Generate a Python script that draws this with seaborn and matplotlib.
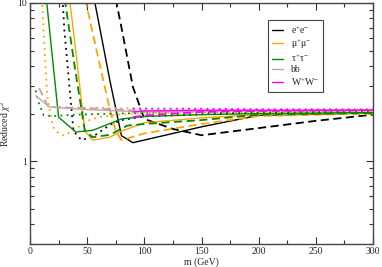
import numpy as np
import pandas as pd
import matplotlib
matplotlib.use("Agg")
import matplotlib.pyplot as plt
from matplotlib.ticker import LogLocator, MultipleLocator, NullFormatter, FixedLocator, FixedFormatter
import seaborn as sns

# ---- data (m in GeV, reduced chi^2) ----
ee_solid_m = [50, 60, 70, 80, 90, 150, 200, 300]
ee_solid = [18, 7.6, 3.2, 1.45, 1.31, 1.65, 1.95, 2.02]
ee_dash_m = [70, 80, 90, 100, 125, 150, 200, 250, 300]
ee_dash = [16, 7.0, 2.95, 1.85, 1.6, 1.46, 1.62, 1.8, 1.97]
ee_dot_m = [25, 30, 35, 38, 45, 55, 70, 80, 100, 150, 200, 300]
ee_dot = [30, 6.8, 2.7, 1.55, 1.36, 1.43, 1.7, 1.82, 1.92, 1.98, 2.02, 2.05]

mm_solid_m = [30, 40, 48, 55, 70, 80, 100, 150, 200, 300]
mm_solid = [20, 5.0, 1.55, 1.36, 1.42, 1.55, 1.75, 1.88, 1.97, 2.02]
mm_dash_m = [40, 50, 60, 70, 75, 80, 100, 150, 200, 300]
mm_dash = [25, 9.3, 4.4, 2.1, 1.55, 1.36, 1.5, 1.72, 1.93, 2.0]
mm_dot_m = [10, 15, 20, 25, 30, 40, 50, 60, 80, 100, 200, 300]
mm_dot = [12, 2.6, 1.65, 1.5, 1.45, 1.6, 1.8, 1.9, 1.98, 2.02, 2.05, 2.07]

tt_solid_m = [10, 15, 25, 40, 55, 80, 100, 150, 200, 300]
tt_solid = [25, 9.5, 1.9, 1.53, 1.57, 1.85, 1.92, 1.97, 2.0, 2.03]
tt_dash_m = [30, 40, 48, 55, 70, 85, 100, 150, 200, 300]
tt_dash = [11, 3.6, 1.55, 1.42, 1.47, 1.68, 1.72, 1.82, 1.97, 2.02]
tt_dot_m = [5, 8, 12, 20, 40, 100, 200, 300]
tt_dot = [2.8, 2.3, 1.95, 1.93, 1.97, 2.02, 2.05, 2.07]

bb_solid_m = [5, 17, 50, 100, 200, 300]
bb_solid = [2.6, 2.2, 2.12, 2.05, 2.08, 2.1]
bb_dash_m = [8, 16, 60, 100, 200, 300]
bb_dash = [2.9, 2.2, 2.15, 2.08, 2.1, 2.12]
bb_dot_m = [20, 100, 200, 300]
bb_dot = [2.2, 2.15, 2.12, 2.13]

ww_solid_m = [90, 100, 150, 200, 300]
ww_solid = [2.05, 2.08, 2.1, 2.1, 2.1]
ww_dash_m = [90, 100, 150, 200, 300]
ww_dash = [1.9, 1.95, 2.05, 2.08, 2.1]
ww_dot_m = [90, 100, 150, 200, 300]
ww_dot = [2.15, 2.15, 2.15, 2.13, 2.12]

labels = [r"e$^{+}$e$^{-}$", r"μ$^{+}$μ$^{-}$", r"τ$^{+}$τ$^{-}$", "bb", r"W$^{+}$W$^{-}$"]
colors = ["black", "#ffa500", "#008b00", "#c9a3a3", "#ff00ff"]

sns.set_style("ticks")
plt.rcParams["font.family"] = ["Liberation Serif", "DejaVu Serif"]
plt.rcParams["mathtext.fontset"] = "custom"
plt.rcParams["mathtext.rm"] = "Liberation Serif"
plt.rcParams["mathtext.it"] = "Liberation Serif:italic"
plt.rcParams["font.size"] = 7

fig = plt.figure(figsize=(3.82, 2.67), dpi=100)
ax = fig.add_axes([30/382, 1-244/267, 343/382, 241/267])

series = [
    (ee_solid_m, ee_solid, ee_dash_m, ee_dash, ee_dot_m, ee_dot),
    (mm_solid_m, mm_solid, mm_dash_m, mm_dash, mm_dot_m, mm_dot),
    (tt_solid_m, tt_solid, tt_dash_m, tt_dash, tt_dot_m, tt_dot),
    (bb_solid_m, bb_solid, bb_dash_m, bb_dash, bb_dot_m, bb_dot),
    (ww_solid_m, ww_solid, ww_dash_m, ww_dash, ww_dot_m, ww_dot),
]
for (sm, sy, dm, dy, om, oy), c, lab in zip(series, colors, labels):
    sns.lineplot(x=sm, y=sy, ax=ax, color=c, lw=1.0, sort=False, estimator=None, label=lab)
    sns.lineplot(x=dm, y=dy, ax=ax, color=c, lw=1.3, sort=False, estimator=None,
                 linestyle=(0, (4.5, 2.5)), legend=False)
    sns.lineplot(x=om, y=oy, ax=ax, color=c, lw=1.3, sort=False, estimator=None,
                 linestyle=(0, (1, 2.4)), legend=False)

ax.set_yscale("log")
ax.set_xlim(0, 300)
ax.set_ylim(0.3, 10)
ax.xaxis.set_major_locator(MultipleLocator(50))
ax.xaxis.set_minor_locator(MultipleLocator(25))
ax.yaxis.set_major_locator(FixedLocator([1, 10]))
ax.yaxis.set_major_formatter(FixedFormatter(["1", "10"]))
ax.yaxis.set_minor_locator(LogLocator(base=10, subs=np.arange(2, 10)))
ax.yaxis.set_minor_formatter(NullFormatter())
ax.tick_params(which="both", direction="in", top=True, right=True, labelsize=7, pad=2, color="#333333")
ax.tick_params(which="major", length=5, width=0.8)
ax.tick_params(which="minor", length=3, width=0.8)
for s in ax.spines.values():
    s.set_linewidth(1.0)
    s.set_color("#444444")

ax.set_xlabel("m (GeV)", fontsize=7, labelpad=1)
ax.set_ylabel(r"Reduced $\chi^2$", fontsize=7, labelpad=3)

leg = ax.legend(loc="upper right", bbox_to_anchor=(0.853, 0.929), fontsize=7,
                frameon=True, fancybox=False, framealpha=1, edgecolor="#444444",
                handlelength=1.1, labelspacing=0.15, borderpad=0.4, handletextpad=0.8,
                borderaxespad=0)
leg.get_frame().set_linewidth(0.8)

fig.savefig("out.png", dpi=100)
